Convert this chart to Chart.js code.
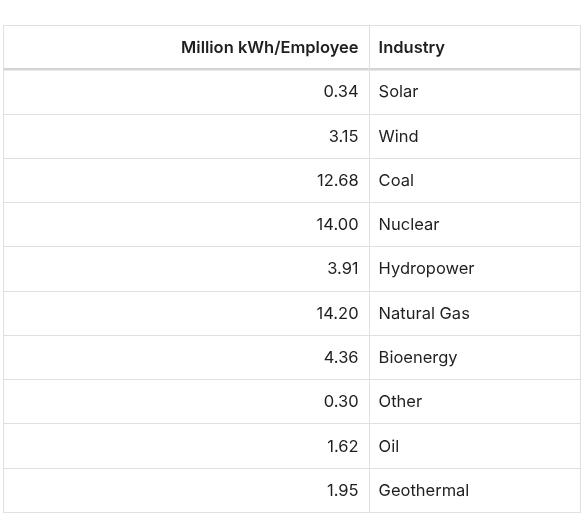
<!DOCTYPE html>
<html><head><meta charset="utf-8">
<script src="https://cdn.jsdelivr.net/npm/chart.js@4"></script>
<style>html,body{margin:0;padding:0;background:#fff}#c{display:block}</style>
</head><body>
<div style="width:587px;height:521px"><canvas id="c"></canvas></div>
<script>
const headers = ["Million kWh/Employee", "Industry"];
const industries = ["Solar","Wind","Coal","Nuclear","Hydropower","Natural Gas","Bioenergy","Other","Oil","Geothermal"];
const values = [0.34,3.15,12.68,14.00,3.91,14.20,4.36,0.30,1.62,1.95];

const tablePlugin = {
  id: 'table',
  afterDraw(chart) {
    const ctx = chart.ctx, x = chart.scales.x, y = chart.scales.y;
    const left = x.getPixelForValue(0), right = x.getPixelForValue(1);
    const divX = x.getPixelForValue(0.6325);
    const nRows = industries.length + 1;
    ctx.save();
    ctx.strokeStyle = '#e0e0e0'; ctx.lineWidth = 1;
    // row lines
    for (let i = 0; i <= nRows; i++) {
      const py = Math.round(y.getPixelForValue(i)) + 0.5;
      ctx.beginPath(); ctx.moveTo(left, py); ctx.lineTo(right, py); ctx.stroke();
    }
    // header bottom thicker
    ctx.strokeStyle = '#d4d4d4'; ctx.lineWidth = 2.5;
    const hy = y.getPixelForValue(1);
    ctx.beginPath(); ctx.moveTo(left, hy); ctx.lineTo(right, hy); ctx.stroke();
    ctx.strokeStyle = '#e0e0e0'; ctx.lineWidth = 1;
    const top = y.getPixelForValue(0), bot = y.getPixelForValue(nRows);
    [left + 0.5, Math.round(divX) + 0.5, right - 0.5].forEach(px => {
      ctx.beginPath(); ctx.moveTo(px, top); ctx.lineTo(px, bot); ctx.stroke();
    });
    ctx.fillStyle = '#1f1f1f'; ctx.textBaseline = 'middle';
    ctx.font = '600 16.5px Inter';
    ctx.textAlign = 'right';
    ctx.fillText(headers[0], divX - 10, y.getPixelForValue(0.5) + 1);
    ctx.textAlign = 'left';
    ctx.fillText(headers[1], divX + 10, y.getPixelForValue(0.5) + 1);
    ctx.font = '400 16.5px Inter';
    industries.forEach((ind, i) => {
      const py = y.getPixelForValue(i + 1.5) + 1;
      ctx.textAlign = 'right';
      ctx.fillText(values[i].toFixed(2), divX - 10, py);
      ctx.textAlign = 'left';
      ctx.fillText(ind, divX + 10, py);
    });
    ctx.restore();
  }
};

new Chart(document.getElementById('c'), {
  type: 'scatter',
  data: { datasets: [{ data: [] }] },
  options: {
    responsive: true, maintainAspectRatio: false, animation: false,
    layout: { padding: { left: 3, right: 6, top: 25, bottom: 9 } },
    plugins: { legend: { display: false }, tooltip: { enabled: false } },
    scales: {
      x: { type: 'linear', min: 0, max: 1, display: false },
      y: { type: 'linear', min: 0, max: industries.length + 1, reverse: true, display: false }
    }
  },
  plugins: [tablePlugin]
});
</script>
</body></html>
